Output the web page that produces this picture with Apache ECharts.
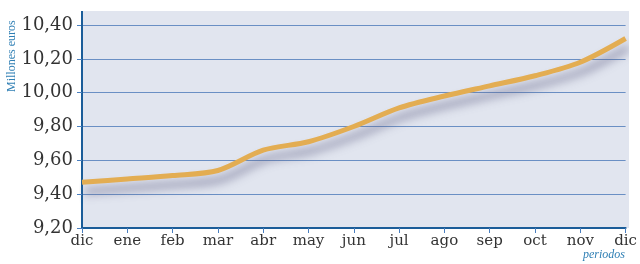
<!DOCTYPE html>
<html>
<head>
<meta charset="utf-8">
<script src="https://cdn.jsdelivr.net/npm/echarts@6/dist/echarts.min.js"></script>
<style>
  html, body { margin: 0; padding: 0; background: #fff; }
  #chart { width: 640px; height: 264px; }
</style>
</head>
<body>
<div id="chart"></div>
<script>
// datos
var meses = ['dic', 'ene', 'feb', 'mar', 'abr', 'may', 'jun', 'jul', 'ago', 'sep', 'oct', 'nov', 'dic']
var valores = [9.47, 9.49, 9.51, 9.54, 9.66, 9.71, 9.80, 9.91, 9.98, 10.04, 10.10, 10.18, 10.32]
var yMin = 9.2
var yMax = 10.4
var yPaso = 0.2

var myChart = echarts.init(document.getElementById('chart'))
var azul = '#1b5d99'
var option = {
    animation: false,
    grid: {
        left: 82,
        right: 11,
        top: 25,
        bottom: 36
    },
    graphic: [
        { // fondo del area de dibujo (sube por encima de 10,40)
            type: 'rect', z: -10,
            shape: { x: 82, y: 11, width: 547, height: 217 },
            style: { fill: '#e1e5ef' }
        },
        { // eje vertical prolongado
            type: 'rect', z: 10,
            shape: { x: 81, y: 11, width: 2, height: 16 },
            style: { fill: azul }
        },
        {
            type: 'text', x: 6, y: 92, rotation: Math.PI / 2,
            style: {
                text: 'Millones euros', fill: '#2f7fb4',
                font: '12px "Liberation Serif", serif',
                textAlign: 'left', textVerticalAlign: 'top'
            }
        },
        {
            type: 'text', x: 583, y: 249,
            style: {
                text: 'periodos', fill: '#2f7fb4',
                font: 'italic 12px "Liberation Serif", serif'
            }
        }
    ],
    xAxis: {
        type: 'category',
        data: meses,
        boundaryGap: false,
        axisLine: { lineStyle: { color: azul, width: 2 } },
        axisTick: { show: true, length: 5, lineStyle: { color: '#4a7fbf', width: 1 } },
        axisLabel: {
            color: '#333', fontSize: 15, margin: 6,
            fontFamily: '"DejaVu Serif", serif',
            interval: 0
        },
        splitLine: { show: false }
    },
    yAxis: {
        type: 'value',
        min: yMin,
        max: yMax,
        interval: yPaso,
        axisLine: { show: true, lineStyle: { color: azul, width: 2 } },
        axisTick: { show: true, length: 5, lineStyle: { color: '#4a7fbf', width: 1 } },
        axisLabel: {
            color: '#333', fontSize: 18, margin: 9,
            fontFamily: '"DejaVu Serif", serif',
            formatter: function (v) { return v.toFixed(2).replace('.', ',') }
        },
        splitLine: { show: true, lineStyle: { color: '#6a8fc4', width: 1.2 } }
    },
    series: [
        {
            type: 'line',
            data: valores,
            smooth: 0.3,
            symbol: 'none',
            lineStyle: {
                color: '#e3ad52',
                width: 5,
                shadowColor: 'rgba(100, 100, 135, 0.7)',
                shadowBlur: 10,
                shadowOffsetX: 3,
                shadowOffsetY: 9
            }
        }
    ]
}
myChart.setOption(option)
</script>
</body>
</html>
